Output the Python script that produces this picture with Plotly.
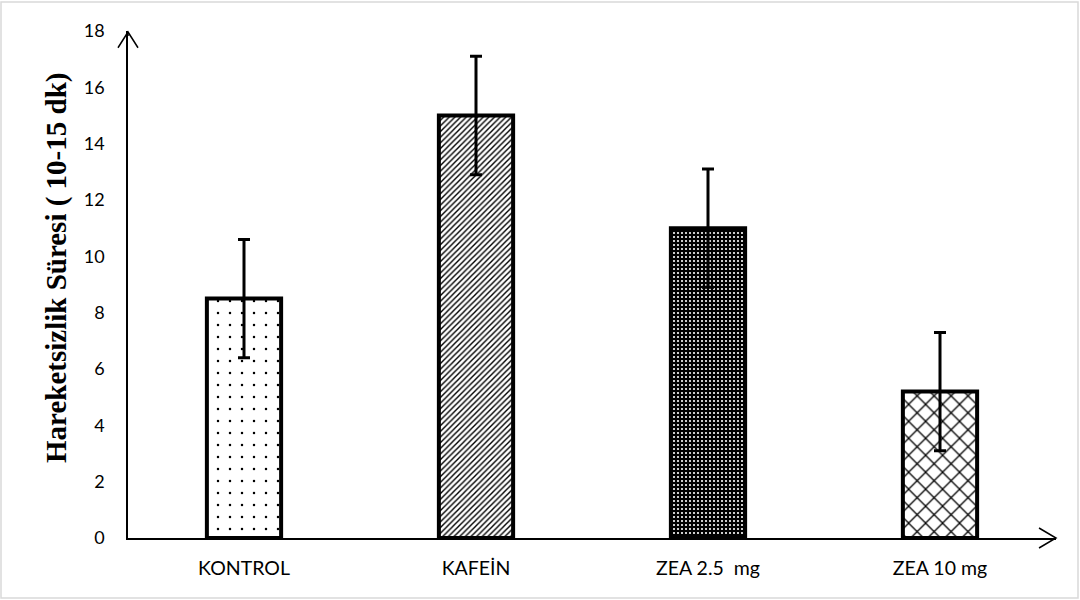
import plotly.graph_objects as go

categories = ["KONTROL", "KAFEİN", "ZEA 2.5\u00a0 mg", "ZEA 10 mg"]
values = [8.5, 15.0, 11.0, 5.2]
errors = [2.1, 2.1, 2.1, 2.1]
y_ticks = [0, 2, 4, 6, 8, 10, 12, 14, 16, 18]

patterns = [".", "/", ".", "x"]
pat_size = [12, 4, 4, 12]
pat_solid = [0.035, 0.35, 0.22, 0.2]
pat_fg = ["black", "black", "white", "black"]
pat_bg = ["white", "white", "black", "white"]

fig = go.Figure()
for i, cat in enumerate(categories):
    fig.add_trace(go.Bar(
        x=[cat], y=[values[i]],
        error_y=dict(type="data", array=[errors[i]], visible=True, color="black",
                     thickness=3, width=6),
        marker=dict(
            color=pat_bg[i],
            line=dict(color="black", width=4),
            pattern=dict(shape=patterns[i], size=pat_size[i], solidity=pat_solid[i],
                         fgcolor=pat_fg[i], bgcolor=pat_bg[i], fillmode="replace"),
        ),
        width=0.32,
    ))

fig.update_layout(
    width=1080, height=600,
    margin=dict(l=128, r=24, t=31, b=62),
    paper_bgcolor="white", plot_bgcolor="white",
    showlegend=False, barmode="overlay",
    xaxis=dict(showline=True, linecolor="black", linewidth=1.5, showgrid=False,
               ticks="", tickfont=dict(family="Liberation Sans Narrow, Lato", size=19.5, color="black"),
               ticklabelstandoff=12, zeroline=False, categoryorder="array",
               categoryarray=categories),
    yaxis=dict(range=[0, 18], tickvals=y_ticks, showline=True, linecolor="black",
               linewidth=1.5, showgrid=False, zeroline=False, ticks="",
               tickfont=dict(family="Lato, Open Sans", size=18, color="black"),
               ticklabelstandoff=18),
)

fig.add_annotation(text="<b>Hareketsizlik Süresi ( 10-15 dk)</b>", textangle=-90,
                   xref="paper", yref="paper", x=-72/928, y=270/507,
                   xanchor="center", yanchor="middle", showarrow=False,
                   font=dict(family="Liberation Serif", size=29, color="black"))

# axis arrowheads (open chevrons)
fig.add_shape(type="path", xref="paper", yref="paper",
              path="M -0.0108 0.967 L 0 0.998 L 0.0108 0.967",
              line=dict(color="black", width=1.5))
fig.add_shape(type="line", xref="paper", yref="paper", x0=0, x1=0, y0=0.99, y1=0.998,
              line=dict(color="black", width=1.5))
fig.add_shape(type="path", xref="paper", yref="paper",
              path="M 0.9817 0.0197 L 1.0 0 L 0.9817 -0.0197",
              line=dict(color="black", width=1.5))
# light frame around the image
fig.add_shape(type="rect", xref="paper", yref="paper",
              x0=-127/928, x1=1+22/928, y0=-60/507, y1=1+29/507,
              line=dict(color="#d9d9d9", width=1.5))

fig.write_html("out.html", config={"displayModeBar": False},
               post_script="document.body.style.margin='0px';")
